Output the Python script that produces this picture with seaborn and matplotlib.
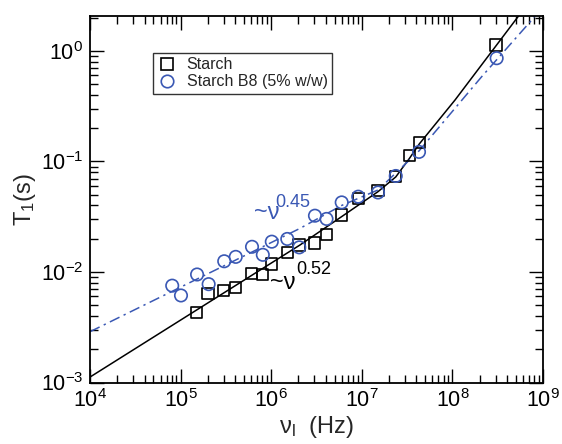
import numpy as np
import pandas as pd
import matplotlib
matplotlib.use("Agg")
import matplotlib.pyplot as plt
import seaborn as sns
from matplotlib.lines import Line2D
from matplotlib.ticker import LogLocator, NullFormatter

# ---- data ----
starch_nu = [1.50e5, 2.01e5, 2.98e5, 4.0e5, 6.09e5, 8.06e5, 1.0e6, 1.52e6, 2.03e6,
             3.0e6, 4.05e6, 6.0e6, 9.13e6, 1.51e7, 2.37e7, 3.38e7, 4.31e7, 3.03e8]
starch_t1 = [4.32e-3, 6.39e-3, 6.77e-3, 7.21e-3, 9.75e-3, 9.49e-3, 1.18e-2, 1.49e-2, 1.755e-2,
             1.83e-2, 2.19e-2, 3.28e-2, 4.65e-2, 5.46e-2, 7.29e-2, 0.1138, 0.148, 1.13]

b8_nu = [8.08e4, 1.01e5, 1.52e5, 2.04e5, 3.03e5, 4.06e5, 6.14e5, 8.08e5, 1.015e6, 1.505e6,
         2.04e6, 3.04e6, 4.08e6, 6.0e6, 9.13e6, 1.51e7, 2.37e7, 4.28e7, 3.08e8]
b8_t1 = [7.52e-3, 6.13e-3, 9.49e-3, 7.76e-3, 1.25e-2, 1.37e-2, 1.69e-2, 1.43e-2, 1.88e-2, 1.99e-2,
         1.67e-2, 3.23e-2, 3.02e-2, 4.26e-2, 4.80e-2, 5.24e-2, 7.39e-2, 0.122, 0.859]

# fit curves (knots)
fit_starch_nu = [1e4, 2.08e6, 6.0e6, 1.51e7, 2.37e7, 3.38e7, 4.31e7, 1.07e8, 5.30e8, 7.0e8]
fit_starch_t1 = [1.12e-3, 1.755e-2, 3.17e-2, 5.33e-2, 7.24e-2, 0.1075, 0.144, 0.36, 2.04, 2.8]
fit_b8_nu = [1e4, 2.08e6, 6.0e6, 1.51e7, 4.28e7, 2.106e8, 7.5e8, 1e9]
fit_b8_t1 = [2.88e-3, 2.48e-2, 4.0e-2, 5.52e-2, 0.1245, 0.585, 1.90, 2.6]

labels = ["Starch", "Starch B8 (5% w/w)"]
blue = "#3a58b4"

sns.set_theme(style="ticks")
plt.rcParams["font.family"] = ["Liberation Sans", "DejaVu Sans"]
plt.rcParams["mathtext.fontset"] = "custom"
plt.rcParams["mathtext.rm"] = "Liberation Sans"
plt.rcParams["mathtext.it"] = "Liberation Sans:italic"
plt.rcParams["mathtext.default"] = "rm"

fig = plt.figure(figsize=(5.62, 4.44), dpi=100)
ax = fig.add_axes([90/562, (444-382.5)/444, (543-90)/562, (382.5-16)/444])

df_s = pd.DataFrame({"nu": starch_nu, "t1": starch_t1})
df_b = pd.DataFrame({"nu": b8_nu, "t1": b8_t1})
df_fs = pd.DataFrame({"nu": fit_starch_nu, "t1": fit_starch_t1})
df_fb = pd.DataFrame({"nu": fit_b8_nu, "t1": fit_b8_t1})

sns.lineplot(data=df_fs, x="nu", y="t1", ax=ax, color="black", lw=1.1,
             estimator=None, sort=False, zorder=2)
sns.lineplot(data=df_fb, x="nu", y="t1", ax=ax, color=blue, lw=1.1,
             estimator=None, sort=False, zorder=2)
ax.lines[1].set_dashes([7, 3, 1.5, 3])

sns.scatterplot(data=df_s, x="nu", y="t1", ax=ax, marker="s", s=66,
                facecolor="none", edgecolor="black", linewidth=1.2, zorder=3)
sns.scatterplot(data=df_b, x="nu", y="t1", ax=ax, marker="o", s=80,
                facecolor="none", edgecolor=blue, linewidth=1.2, zorder=3)

ax.set_xscale("log")
ax.set_yscale("log")
ax.set_xlim(1e4, 1e9)
ax.set_ylim(1e-3, 2.07)

ax.xaxis.set_major_locator(LogLocator(base=10, numticks=20))
ax.xaxis.set_minor_locator(LogLocator(base=10, subs=np.arange(2, 10), numticks=20))
ax.yaxis.set_major_locator(LogLocator(base=10, numticks=20))
ax.yaxis.set_minor_locator(LogLocator(base=10, subs=np.arange(2, 10), numticks=20))
ax.xaxis.set_minor_formatter(NullFormatter())
ax.yaxis.set_minor_formatter(NullFormatter())

ax.tick_params(which="both", direction="in", top=True, right=True, colors="black")
ax.tick_params(which="major", length=10, width=1.0, labelsize=15.5, pad=5)
ax.tick_params(which="minor", length=6, width=1.0)
for sp in ax.spines.values():
    sp.set_linewidth(1.3)
    sp.set_color("black")

ax.set_xlabel(r"$\nu_\mathrm{l}$  (Hz)", fontsize=17, labelpad=1)
ax.set_ylabel(r"T$_1$(s)", fontsize=17, labelpad=2)

# annotations
ax.text(1.35e6, 7.9e-3, "~ν", fontsize=17, color="black", ha="center", va="center")
ax.text(1.88e6, 1.05e-2, "0.52", fontsize=13, color="black", ha="left", va="center")
ax.text(9.0e5, 3.4e-2, "~ν", fontsize=17, color=blue, ha="center", va="center")
ax.text(1.12e6, 4.25e-2, "0.45", fontsize=13, color=blue, ha="left", va="center")

handles = [
    Line2D([], [], marker="s", ls="none", markersize=8.2, markerfacecolor="none",
           markeredgecolor="black", markeredgewidth=1.2),
    Line2D([], [], marker="o", ls="none", markersize=9, markerfacecolor="none",
           markeredgecolor=blue, markeredgewidth=1.2),
]
leg = ax.legend(handles, labels, loc="upper left", bbox_to_anchor=(0.139, 0.9),
                fontsize=11.5, frameon=True, fancybox=False, edgecolor="black",
                borderpad=0.3, handletextpad=0.6, labelspacing=0.12, handlelength=1.2,
                borderaxespad=0)
leg.get_frame().set_linewidth(1.0)

fig.savefig("out.png", dpi=100)
